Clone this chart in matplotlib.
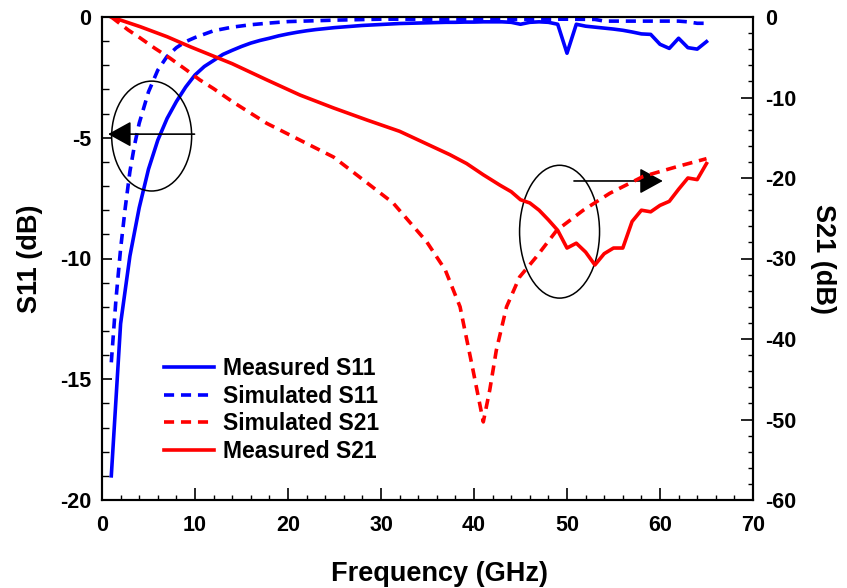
import matplotlib
matplotlib.use("Agg")
import matplotlib.pyplot as plt
from matplotlib.patches import Ellipse
from matplotlib.ticker import MultipleLocator

plt.rcParams['font.family'] = ['Liberation Sans', 'DejaVu Sans']
plt.rcParams['font.weight'] = 'bold'
plt.rcParams['axes.unicode_minus'] = False

# Measured S11 (dB), left axis
meas_s11_f = list(range(1, 66))
meas_s11 = [-19.0, -12.7, -9.9, -7.9, -6.3, -5.1, -4.2, -3.5, -2.9, -2.4,
            -2.05, -1.8, -1.55, -1.38, -1.22, -1.08, -0.97, -0.88, -0.78, -0.70,
            -0.63, -0.57, -0.52, -0.48, -0.44, -0.41, -0.38, -0.35, -0.33, -0.31,
            -0.29, -0.27, -0.26, -0.25, -0.24, -0.23, -0.22, -0.22, -0.21, -0.21,
            -0.20, -0.20, -0.20, -0.22, -0.30, -0.22, -0.20, -0.22, -0.30, -1.50,
            -0.30, -0.38, -0.42, -0.46, -0.50, -0.55, -0.62, -0.70, -0.72, -1.13,
            -1.30, -0.88, -1.27, -1.33, -1.02]

# Simulated S11 (dB), left axis
sim_s11_f = [1, 1.5, 2, 2.5, 3, 3.5, 4, 5, 6, 7, 8, 9, 10, 12, 14, 16, 18, 20,
             25, 30, 40, 50, 53, 54, 62, 63, 64, 65]
sim_s11 = [-14.3, -11.7, -9.6, -7.9, -6.4, -5.3, -4.4, -3.1, -2.2, -1.63, -1.27,
           -1.02, -0.85, -0.57, -0.42, -0.32, -0.25, -0.19, -0.13, -0.09, -0.09,
           -0.09, -0.10, -0.17, -0.17, -0.20, -0.26, -0.26]

# Simulated S21 (dB), right axis
sim_s21_f = [1, 2.8, 4.1, 5.7, 7.3, 9.1, 10.5, 12, 14, 17.7, 21.3, 24.9, 28.5,
             31.3, 34.9, 36.9, 38.5, 39.9, 41, 41.7, 42.4, 43.5, 44.9, 46.7, 48.9,
             51.75, 54.6, 58.2, 61.8, 65]
sim_s21 = [0.0, -1.6, -2.6, -3.9, -5.1, -6.6, -7.8, -8.9, -10.5, -13.2, -15.3,
           -17.4, -20.6, -23.1, -27.9, -31.4, -36.0, -43.9, -50.3, -46.3, -41.4,
           -36.0, -32.3, -29.8, -26.5, -24.0, -21.9, -19.8, -18.6, -17.6]

# Measured S21 (dB), right axis
meas_s21_f = [1, 4.1, 7, 9.5, 12.5, 14, 17.7, 21.3, 24.9, 28.5, 32, 37.4, 39.2,
              41, 42.8, 44, 45, 46, 47, 48, 49, 50, 51, 52, 53, 54, 55, 56, 57,
              58, 59, 60, 61, 62, 63, 64, 65]
meas_s21 = [0.0, -1.2, -2.45, -3.7, -5.1, -5.8, -7.8, -9.7, -11.3, -12.8, -14.2,
            -17.1, -18.2, -19.6, -20.9, -21.7, -22.7, -23.1, -24.0, -25.2, -26.5,
            -28.7, -28.1, -29.2, -30.8, -29.4, -28.7, -28.7, -25.4, -24.0, -24.2,
            -23.4, -22.9, -21.4, -20.0, -20.2, -18.2]

xticks = [0, 10, 20, 30, 40, 50, 60, 70]
s11_ticks = [-20, -15, -10, -5, 0]
s21_ticks = [-60, -50, -40, -30, -20, -10, 0]

BLUE = '#0000ff'
RED = '#ff0000'
LW = 2.6
DASH = (2.8, 1.9)
FS_TICK = 15.5
FS_LABEL = 19.5
FS_LEGEND = 16.5

fig = plt.figure(figsize=(8.47, 5.88), dpi=100)
ax = fig.add_axes([102 / 847, 1 - 500 / 588, (753 - 102) / 847, (500 - 17) / 588])
ax2 = ax.twinx()

h1, = ax.plot(meas_s11_f, meas_s11, color=BLUE, lw=LW, label='Measured S11')
h2, = ax.plot(sim_s11_f, sim_s11, color=BLUE, lw=LW, dashes=DASH, label='Simulated S11')
h3, = ax2.plot(sim_s21_f, sim_s21, color=RED, lw=LW, dashes=DASH, label='Simulated S21')
h4, = ax2.plot(meas_s21_f, meas_s21, color=RED, lw=LW, label='Measured S21')

ax.set_xlim(0, 70)
ax.set_ylim(-20, 0)
ax2.set_ylim(-60, 0)

ax.set_xticks(xticks)
ax.xaxis.set_minor_locator(MultipleLocator(2))
ax.set_yticks(s11_ticks)
ax.yaxis.set_minor_locator(MultipleLocator(1))
ax2.set_yticks(s21_ticks)
ax2.yaxis.set_minor_locator(MultipleLocator(2))

for a in (ax, ax2):
    for s in a.spines.values():
        s.set_linewidth(1.5)

ax.tick_params(axis='x', which='major', direction='in', length=8.6, width=1.2,
               labelsize=FS_TICK, pad=11, top=False)
ax.tick_params(axis='x', which='minor', direction='in', length=3.8, width=1.0, top=False)
ax.tick_params(axis='y', which='major', direction='in', length=7, width=1.2,
               labelsize=FS_TICK, pad=8, right=False)
ax.tick_params(axis='y', which='minor', direction='in', length=5, width=1.0, right=False)
ax2.tick_params(axis='y', which='major', direction='in', length=8.6, width=1.2,
                labelsize=FS_TICK, pad=9)
ax2.tick_params(axis='y', which='minor', direction='in', length=3.6, width=1.0)

for lab in ax.get_xticklabels() + ax.get_yticklabels() + ax2.get_yticklabels():
    lab.set_fontweight('bold')

ax.set_xlabel('Frequency (GHz)', fontsize=FS_LABEL, fontweight='bold', labelpad=18, x=0.519)
ax.set_ylabel('S11 (dB)', fontsize=FS_LABEL, fontweight='bold', labelpad=12)
ax2.set_ylabel('S21 (dB)', fontsize=FS_LABEL, fontweight='bold', rotation=-90, labelpad=28)

# Ellipses marking which axis each pair of curves belongs to
ax.add_patch(Ellipse((5.34, -4.93), 8.6, 4.55, fill=False, ec='black', lw=1.1, zorder=5))
ax.add_patch(Ellipse((49.2, -8.89), 8.6, 5.5, fill=False, ec='black', lw=1.1, zorder=5))

arrow_style = dict(arrowstyle='-|>,head_length=1.0,head_width=0.55', color='black',
                   lw=1.2, mutation_scale=14.4, shrinkA=0, shrinkB=0)
ax.annotate('', xy=(0.65, -4.85), xytext=(9.95, -4.85), arrowprops=arrow_style, zorder=6)
ax.annotate('', xy=(60.3, -6.79), xytext=(50.75, -6.79), arrowprops=arrow_style, zorder=6)

leg = ax2.legend(handles=[h1, h2, h3, h4], loc='center left',
                 bbox_to_anchor=(164 / 847, 1 - 410 / 588), bbox_transform=fig.transFigure,
                 frameon=False, borderpad=0, borderaxespad=0, handlelength=2.18,
                 handletextpad=0.38, labelspacing=0.2,
                 prop={'size': FS_LEGEND, 'weight': 'bold'})

fig.savefig('out.png', dpi=100)
